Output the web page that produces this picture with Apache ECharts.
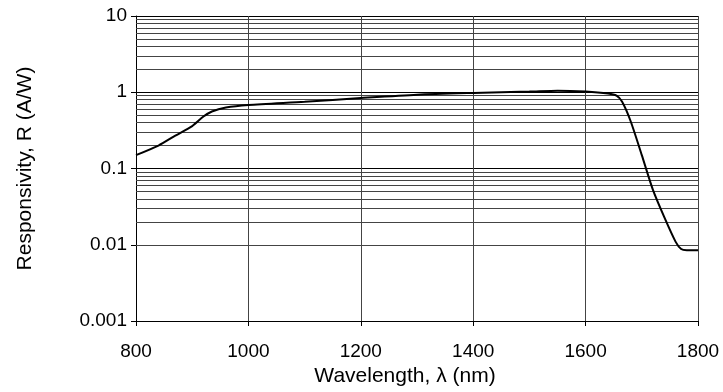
<!DOCTYPE html>
<html>
<head>
<meta charset="utf-8">
<script src="https://cdn.jsdelivr.net/npm/echarts@6/dist/echarts.min.js"></script>
<style>
  html, body { margin: 0; padding: 0; background: #fff; }
  #chart { width: 723px; height: 392px; }
</style>
</head>
<body>
<div id="chart"></div>
<script>
// wavelength (nm) and responsivity (A/W)
const wavelength = [800, 840, 870, 900, 920, 935, 960, 1000, 1100, 1200, 1300, 1400, 1500, 1550, 1600, 1640, 1655, 1665, 1680, 1700, 1720, 1740, 1760, 1770, 1780, 1800]
const responsivity = [0.15, 0.20, 0.27, 0.36, 0.48, 0.56, 0.63, 0.68, 0.75, 0.84, 0.93, 0.98, 1.02, 1.05, 1.02, 0.96, 0.90, 0.75, 0.42, 0.15, 0.052, 0.023, 0.011, 0.0088, 0.0085, 0.0085]

// minor grid lines (2..9 within each decade)
const minorLines = []
for (const dec of [0.001, 0.01, 0.1, 1]) {
  for (let k = 2; k <= 9; k++) minorLines.push(+(dec * k).toPrecision(3))
}

const chart = echarts.init(document.getElementById('chart'))
const font = 'Liberation Sans, Arial, sans-serif'

chart.setOption({
  animation: false,
  grid: { left: 136, right: 25, top: 16, bottom: 70 },
  xAxis: {
    type: 'value',
    min: 800,
    max: 1800,
    interval: 200,
    name: 'Wavelength, \u03bb (nm)',
    nameLocation: 'middle',
    nameGap: 45,
    // title sits a little left of the plot centre
    nameTextStyle: { color: '#000', fontSize: 21, fontFamily: font, padding: [0, 24, 0, 0] },
    axisLine: { lineStyle: { color: '#000', width: 1 } },
    axisTick: { show: true, length: 5, lineStyle: { color: '#000' } },
    axisLabel: {
      color: '#000', fontSize: 19, fontFamily: font, margin: 21,
      formatter: v => String(v)
    },
    splitLine: { show: true, lineStyle: { color: '#444', width: 1 } }
  },
  yAxis: {
    type: 'log',
    logBase: 10,
    min: 0.001,
    max: 10,
    name: 'Responsivity, R (A/W)',
    nameLocation: 'middle',
    nameGap: 100,
    nameTextStyle: { color: '#000', fontSize: 21, fontFamily: font },
    axisLine: { show: true, lineStyle: { color: '#000', width: 1 } },
    axisTick: { show: true, length: 5, lineStyle: { color: '#000' } },
    axisLabel: {
      color: '#000', fontSize: 19, fontFamily: font, margin: 9,
      formatter: v => String(+(+v).toPrecision(3))
    },
    splitLine: { show: true, lineStyle: { color: '#000', width: 1 } }
  },
  series: [
    {
      type: 'line',
      data: wavelength.map((w, i) => [w, responsivity[i]]),
      showSymbol: false,
      smooth: 0.25,
      lineStyle: { color: '#000', width: 2 },
      z: 5,
      markLine: {
        silent: true,
        symbol: 'none',
        label: { show: false },
        lineStyle: { color: '#444', width: 1, type: 'solid' },
        data: minorLines.map(v => ({ yAxis: v }))
      }
    }
  ]
})
</script>
</body>
</html>
